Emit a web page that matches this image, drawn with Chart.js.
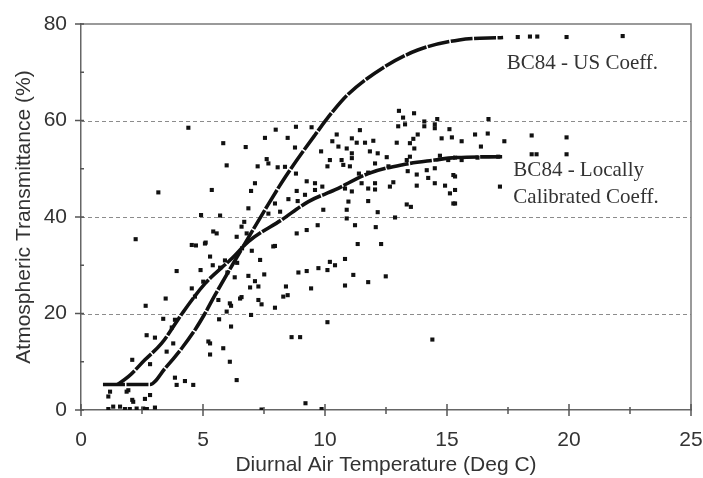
<!DOCTYPE html>
<html>
<head>
<meta charset="utf-8">
<script src="https://cdn.jsdelivr.net/npm/chart.js@4.4.1/dist/chart.umd.min.js"></script>
<style>
  html, body { margin: 0; padding: 0; background: #fff; }
  #wrap { width: 703px; height: 478px; }
</style>
</head>
<body>
<div id="wrap"><canvas id="chart" width="703" height="478"></canvas></div>
<script>
// ---- observed points (diurnal temp range, transmittance) ----
const obsX = [
  17.9, 18.4, 18.7, 19.9, 22.2,
  4.40, 3.17, 5.36, 4.92, 5.42, 2.24, 4.71, 5.11,
  7.98, 8.81, 9.45, 7.54, 8.47, 5.83, 6.75, 8.77, 9.84, 10.3, 7.61, 7.68, 5.97, 7.24, 8.06, 8.36, 10.1, 10.2,
  8.81, 7.13, 9.25, 9.59, 9.89, 6.97, 8.84, 9.18, 9.59, 8.50, 8.88, 7.95, 9.93, 6.86, 8.16, 5.70, 7.68, 6.69,
  9.70, 6.58, 8.84, 9.25, 6.79, 6.38, 7.95, 7.00, 5.56,
  13.03, 13.65, 13.2, 13.0, 13.28, 14.07, 14.07, 14.5, 14.5, 14.6, 15.1, 11.43, 10.48, 11.1, 11.3, 11.64, 11.98,
  12.94, 13.62, 13.8, 13.48, 14.78, 15.2, 10.55, 10.89, 11.1, 11.84, 12.16, 13.66, 10.68, 11.1, 12.53, 13.35,
  13.48, 14.71, 15.05, 10.75, 12.05, 11.02, 12.6, 13.39, 11.39, 11.77, 13.76, 14.17, 14.5, 15.26, 12.05, 11.5,
  12.8, 13.76, 14.23, 14.5, 14.92, 10.82, 11.77, 12.05, 12.66, 11.1, 15.12, 10.96, 11.77, 13.35, 13.52, 15.26,
  10.89, 10.89, 12.16, 12.87, 11.23, 12.08, 11.34, 12.3,
  16.7, 16.15, 16.67, 15.6, 17.35, 16.39, 18.47, 19.9, 15.33, 15.6, 16.25, 17.1, 18.47, 18.67, 19.9, 15.33,
  17.17, 15.33, 15.33,
  3.92, 4.54, 3.47, 2.65, 3.37, 2.69, 3.03, 3.51, 3.78, 5.29, 5.29, 2.1, 2.83, 3.85, 4.26, 4.6, 3.92, 1.94,
  1.19, 1.12, 2.1, 2.62, 2.83, 1.12, 1.32, 1.6, 1.8, 2.0, 2.28, 3.03, 2.7, 5.01, 4.67, 3.85, 3.72, 1.87, 2.14,
  2.55, 4.54, 5.08, 5.29, 5.83, 6.1, 6.38, 5.63, 6.1, 6.15, 5.97, 6.52, 5.22,
  7.34, 6.86, 7.13, 6.93, 7.27, 7.51, 6.58, 6.15, 7.27, 7.4, 6.97, 7.95, 8.4, 8.29, 8.47, 8.91, 9.25, 9.73,
  10.1, 10.2, 9.43, 5.66, 10.1, 8.63, 8.98, 9.2, 7.4, 9.86, 7.88,
  10.82, 10.41, 11.16, 10.82, 11.77, 12.49, 14.4,
  5.7, 6.0, 6.4, 6.6, 5.9, 6.3, 4.9, 5.4
];
const obsY = [
  77.3, 77.4, 77.4, 77.3, 77.5,
  58.5, 45.1, 45.6, 40.4, 37.0, 35.4, 34.1, 34.7,
  58.1, 58.7, 58.6, 56.4, 56.4, 55.3, 54.5, 54.4, 53.6, 55.7, 52.0, 51.1, 50.7, 50.5, 50.3, 50.4, 50.5, 51.8,
  49.0, 47.0, 47.4, 47.0, 46.3, 45.4, 45.4, 44.6, 45.6, 43.7, 43.3, 42.8, 41.5, 41.8, 41.1, 40.3, 40.7, 39.0,
  38.3, 38.0, 36.6, 37.3, 36.6, 35.9, 34.0, 33.0, 36.6,
  62.0, 61.5, 60.6, 58.8, 59.2, 59.8, 58.8, 59.2, 58.4, 60.3, 58.2, 58.0, 57.1, 56.3, 55.4, 55.4, 55.8,
  55.4, 56.2, 57.1, 55.3, 56.3, 56.5, 54.6, 54.2, 53.2, 53.6, 53.2, 54.2, 51.8, 52.2, 52.4, 51.8,
  52.5, 52.7, 51.8, 50.8, 51.1, 50.5, 50.5, 49.5, 49.0, 49.2, 48.8, 49.7, 50.1, 48.7, 47.0, 47.0,
  47.2, 46.5, 48.1, 47.0, 46.5, 45.9, 45.9, 45.7, 46.3, 45.3, 44.9, 43.2, 43.3, 42.6, 42.1, 42.8,
  41.5, 39.7, 41.0, 39.9, 38.3, 37.9, 34.4, 34.4,
  60.3, 57.1, 57.3, 55.7, 55.7, 54.6, 56.9, 56.5, 52.3, 51.8, 52.3, 52.5, 53.0, 53.0, 53.0, 48.4,
  46.3, 45.6, 42.8,
  28.8, 25.2, 23.1, 21.6, 18.9, 15.5, 15.0, 12.1, 13.8, 13.8, 11.5, 10.4, 9.5, 6.7, 6.0, 5.2, 5.2, 4.1,
  3.8, 2.8, 2.1, 2.3, 3.1, 0.2, 0.7, 0.7, 0.2, 0.2, 0.3, 0.5, 0.2, 26.6, 23.5, 18.7, 17.1, 3.8, 1.7,
  0.3, 34.2, 34.5, 31.8, 12.8, 10.0, 6.2, 22.8, 22.1, 17.3, 20.4, 23.1, 14.2,
  31.1, 27.8, 26.7, 25.4, 25.6, 28.1, 23.4, 21.6, 22.8, 21.9, 19.7, 21.2, 25.6, 23.5, 23.8, 28.5, 28.8, 29.4,
  29.0, 30.7, 25.2, 18.8, 18.2, 15.1, 15.1, 1.4, 0.1, 0.2, 33.9,
  31.3, 30.0, 28.0, 25.8, 26.5, 27.7, 14.6,
  29.5, 28.5, 30.5, 33.5, 31.0, 27.5, 29.0, 30.0
];

// ---- model curves ----
const usCurveX = [0.9, 2.83, 3.44, 4.13, 4.67, 5.08, 5.49, 6.52, 7.54, 8.4, 9.59, 10.34, 10.96, 12.4, 13.8, 15.5, 17.3];
const usCurveY = [5.3, 5.3, 8.6, 12.8, 16.6, 20.0, 23.8, 32.8, 41.5, 48.5, 57.0, 62.0, 65.5, 71.0, 74.6, 76.7, 77.2];
const localCurveX = [1.5, 1.94, 2.62, 3.3, 4.2, 5.08, 6.2, 6.86, 8.22, 9.32, 10.4, 11.77, 13.14, 14.5, 15.33, 17.3];
const localCurveY = [5.3, 6.9, 10.4, 13.8, 20.4, 26.2, 31.5, 34.9, 39.4, 43.2, 45.6, 49.0, 50.8, 51.8, 52.3, 52.5];

// ---- axes ----
const gridY = [20, 40, 60];
const minorX = [2.5, 7.5, 12.5, 17.5, 22.5];
const majorX = [0, 5, 10, 15, 20, 25];
const minorY = [10, 30, 50, 70];
const majorY = [0, 20, 40, 60, 80];

// ---- curve labels (text, x, y in data units) ----
const noteText = ["BC84 - US Coeff.", "BC84 - Locally", "Calibrated Coeff."];
const noteX = [17.45, 17.72, 17.72];
const noteY = [70.7, 48.4, 43.0];

function pairs(xs, ys) {
  return xs.map((v, i) => ({ x: v, y: ys[i] }));
}

const framePlugin = {
  id: 'frame',
  beforeDatasetsDraw(chart) {
    const { ctx, chartArea: a, scales: { x, y } } = chart;
    ctx.save();
    ctx.strokeStyle = '#8c8c8c';
    ctx.lineWidth = 1;
    ctx.setLineDash([4, 3]);
    gridY.forEach(v => {
      const py = Math.round(y.getPixelForValue(v)) + 0.5;
      ctx.beginPath();
      ctx.moveTo(a.left, py);
      ctx.lineTo(a.right, py);
      ctx.stroke();
    });
    ctx.setLineDash([]);
    ctx.strokeStyle = '#7a7a7a';
    ctx.lineWidth = 1.5;
    ctx.beginPath();
    ctx.moveTo(a.left, a.top);
    ctx.lineTo(a.right, a.top);
    ctx.lineTo(a.right, a.bottom);
    ctx.stroke();
    ctx.restore();
  },
  afterDraw(chart) {
    const { ctx, chartArea: a, scales: { x, y } } = chart;
    ctx.save();
    ctx.strokeStyle = '#555';
    ctx.lineWidth = 1.5;
    // tick marks crossing the axes
    majorX.forEach(v => {
      const px = x.getPixelForValue(v);
      ctx.beginPath(); ctx.moveTo(px, a.bottom - 6); ctx.lineTo(px, a.bottom + 6); ctx.stroke();
    });
    minorX.forEach(v => {
      const px = x.getPixelForValue(v);
      ctx.beginPath(); ctx.moveTo(px, a.bottom - 3); ctx.lineTo(px, a.bottom + 4); ctx.stroke();
    });
    majorY.forEach(v => {
      const py = y.getPixelForValue(v);
      ctx.beginPath(); ctx.moveTo(a.left - 6, py); ctx.lineTo(a.left + 3, py); ctx.stroke();
    });
    minorY.forEach(v => {
      const py = y.getPixelForValue(v);
      ctx.beginPath(); ctx.moveTo(a.left - 1, py); ctx.lineTo(a.left + 3, py); ctx.stroke();
    });
    // curve labels
    ctx.fillStyle = '#333';
    ctx.font = '21px "Liberation Serif", "Times New Roman", serif';
    ctx.textBaseline = 'alphabetic';
    ctx.textAlign = 'left';
    noteText.forEach((t, i) => {
      ctx.fillText(t, x.getPixelForValue(noteX[i]), y.getPixelForValue(noteY[i]));
    });
    ctx.restore();
  }
};

const tickFont = { family: '"Liberation Sans", Arial, sans-serif', size: 21 };

new Chart(document.getElementById('chart'), {
  type: 'scatter',
  data: {
    datasets: [
      {
        label: 'BC84 - US Coeff.',
        data: pairs(usCurveX, usCurveY),
        showLine: true,
        borderColor: '#111',
        borderWidth: 3.6,
        borderDash: [22, 1.5],
        pointRadius: 0,
        cubicInterpolationMode: 'monotone'
      },
      {
        label: 'BC84 - Locally Calibrated Coeff.',
        data: pairs(localCurveX, localCurveY),
        showLine: true,
        borderColor: '#111',
        borderWidth: 3.6,
        borderDash: [22, 1.5],
        pointRadius: 0,
        cubicInterpolationMode: 'monotone'
      },
      {
        label: 'Observed',
        data: pairs(obsX, obsY),
        pointStyle: 'rect',
        pointRadius: 2.9,
        borderWidth: 0,
        backgroundColor: '#111'
      }
    ]
  },
  options: {
    responsive: false,
    animation: false,
    devicePixelRatio: 1,
    layout: { padding: { left: 0, top: 24, right: 12, bottom: 0 } },
    plugins: {
      legend: { display: false },
      tooltip: { enabled: false }
    },
    scales: {
      x: {
        type: 'linear',
        min: 0,
        max: 25,
        grid: { display: false, drawTicks: false },
        border: { display: true, color: '#666', width: 1.5 },
        ticks: { stepSize: 5, font: tickFont, color: '#333', padding: 18 },
        title: {
          display: true,
          text: 'Diurnal Air Temperature (Deg C)',
          font: tickFont,
          color: '#333',
          padding: { top: 0, bottom: 0 }
        },
        afterFit(s) { s.height = 68; s.paddingLeft = 0; s.paddingRight = 0; }
      },
      y: {
        type: 'linear',
        min: 0,
        max: 80,
        grid: { display: false, drawTicks: false },
        border: { display: true, color: '#666', width: 1.5 },
        ticks: { stepSize: 20, font: tickFont, color: '#333', padding: 14 },
        title: {
          display: true,
          text: 'Atmospheric Transmittance (%)',
          font: tickFont,
          color: '#333',
          padding: { top: 12, bottom: 0 }
        },
        afterFit(s) { s.width = 81; s.paddingTop = 0; s.paddingBottom = 0; }
      }
    }
  },
  plugins: [framePlugin]
});
</script>
</body>
</html>
